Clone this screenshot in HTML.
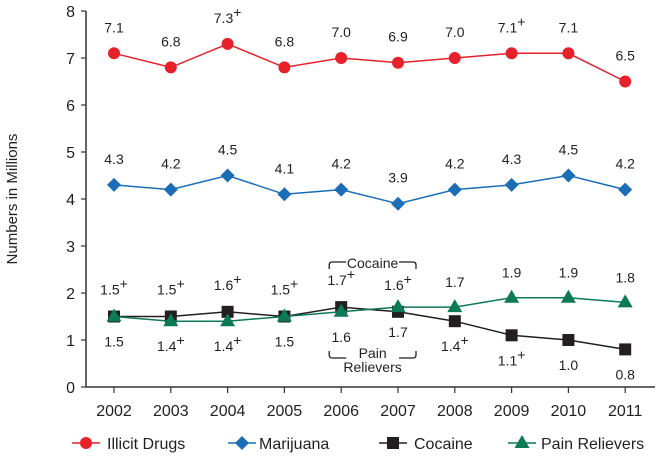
<!DOCTYPE html>
<html><head><meta charset="utf-8"><style>
body{margin:0;background:#fff;}
svg text{font-family:"Liberation Sans",Arial,sans-serif;fill:#231f20;}
</style></head><body>
<svg id="chart" width="656" height="461" xmlns="http://www.w3.org/2000/svg"></svg>
<script>
const years=["2002","2003","2004","2005","2006","2007","2008","2009","2010","2011"];
const illicit=[7.1,6.8,7.3,6.8,7.0,6.9,7.0,7.1,7.1,6.5];
const illicitLabels=["7.1","6.8","7.3+","6.8","7.0","6.9","7.0","7.1+","7.1","6.5"];
const marijuana=[4.3,4.2,4.5,4.1,4.2,3.9,4.2,4.3,4.5,4.2];
const marijuanaLabels=["4.3","4.2","4.5","4.1","4.2","3.9","4.2","4.3","4.5","4.2"];
const cocaine=[1.5,1.5,1.6,1.5,1.7,1.6,1.4,1.1,1.0,0.8];
const cocaineLabels=["1.5+","1.5+","1.6+","1.5+","1.7+","1.6+","1.4+","1.1+","1.0","0.8"];
const pain=[1.5,1.4,1.4,1.5,1.6,1.7,1.7,1.9,1.9,1.8];
const painLabels=["1.5","1.4+","1.4+","1.5","1.6","1.7","1.7","1.9","1.9","1.8"];
const yTicks=[0,1,2,3,4,5,6,7,8];

const NS="http://www.w3.org/2000/svg";
const svg=document.getElementById('chart');
const x0=86,y0=387,unit=47,x2002=114,step=56.8;
const X=i=>x2002+i*step;
const Y=v=>y0-v*unit;
function el(t,a,p){const e=document.createElementNS(NS,t);for(const k in a)e.setAttribute(k,a[k]);(p||svg).appendChild(e);return e;}
function label(txt,x,y,size){
  const t=el('text',{x:x,y:y,'text-anchor':'middle','font-size':size});
  const plus=txt.endsWith('+');
  t.textContent=plus?txt.slice(0,-1):txt;
  if(plus){const s=el('tspan',{dy:-6,'font-size':size},t);s.textContent='+';}
  return t;
}
let a=el('line',{x1:x0,y1:y0,x2:655,y2:y0,stroke:'#333','stroke-width':1.5});

a=el('line',{x1:x0,y1:Y(8),x2:x0,y2:y0,stroke:'#333','stroke-width':1.5});

yTicks.forEach(v=>{
  const l=el('line',{x1:x0-5,y1:Y(v),x2:x0,y2:Y(v),stroke:'#333','stroke-width':1.2});
  
  const t=el('text',{x:x0-11,y:Y(v)+6,'text-anchor':'end','font-size':16});t.textContent=v;
  
});
years.forEach((yr,i)=>{
  const l=el('line',{x1:X(i),y1:y0,x2:X(i),y2:y0+6,stroke:'#333','stroke-width':1.2});
  
  const t=el('text',{x:X(i),y:y0+29,'text-anchor':'middle','font-size':16});t.textContent=yr;
  
});
const yt=el('text',{x:0,y:0,'text-anchor':'middle','font-size':15,transform:'translate(17,'+Y(4)+') rotate(-90)'});
yt.textContent='Numbers in Millions';


function marker(shape,x,y,color,parent){
  if(shape==='circle')return el('circle',{cx:x,cy:y,r:6,fill:color},parent);
  if(shape==='diamond')return el('polygon',{points:`${x},${y-7} ${x+7},${y} ${x},${y+7} ${x-7},${y}`,fill:color},parent);
  if(shape==='square')return el('rect',{x:x-6,y:y-6,width:12,height:12,fill:color},parent);
  return el('polygon',{points:`${x},${y-8} ${x+7.5},${y+5} ${x-7.5},${y+5}`,fill:color},parent);
}
function series(vals,color,shape,name){
  const g=el('g',{});
  
  const p=el('polyline',{points:vals.map((v,i)=>X(i)+','+Y(v)).join(' '),fill:'none',stroke:color,'stroke-width':1.5},g);
  
  vals.forEach((v,i)=>{const m=marker(shape,X(i),Y(v),color,g);
    });
}
series(illicit,'#e8202a','circle','illicit-drugs');
series(marijuana,'#1b6db5','diamond','marijuana');
series(cocaine,'#231f20','square','cocaine');
series(pain,'#0b7a55','triangle','pain-relievers');

illicit.forEach((v,i)=>{const t=label(illicitLabels[i],X(i),Y(v)-21,14);
  });
marijuana.forEach((v,i)=>{const t=label(marijuanaLabels[i],X(i),Y(v)-21,14);
  });
cocaine.forEach((v,i)=>{const above=i<6;
  const t=label(cocaineLabels[i],X(i),above?Y(v)-22:Y(v)+30,14);
  });
pain.forEach((v,i)=>{const above=i>=6;
  const t=label(painLabels[i],X(i),above?Y(v)-20:Y(v)+30,14);
  });

const bx1=X(4)-12,bx2=X(5)+18;
let b=el('path',{d:`M${bx1},269 v-4 q0,-3 3,-3 h14 M${bx2},269 v-4 q0,-3 -3,-3 h-14`,fill:'none',stroke:'#231f20','stroke-width':1.3});

let t=el('text',{x:(bx1+bx2)/2,y:268,'text-anchor':'middle','font-size':14});t.textContent='Cocaine';

b=el('path',{d:`M${bx1},351 v4 q0,3 3,3 h14 M${bx2},351 v4 q0,3 -3,3 h-14`,fill:'none',stroke:'#231f20','stroke-width':1.3});

t=el('text',{x:(bx1+bx2)/2,y:358,'text-anchor':'middle','font-size':14});t.textContent='Pain';

t=el('text',{x:(bx1+bx2)/2,y:372,'text-anchor':'middle','font-size':14});t.textContent='Relievers';


const legend=[["Illicit Drugs",'#e8202a','circle',86,107],["Marijuana",'#1b6db5','diamond',242,259],["Cocaine",'#231f20','square',393,414],["Pain Relievers",'#0b7a55','triangle',522,541]];
legend.forEach(([name,c,s,mx,tx])=>{
  const g=el('g',{});
  
  el('line',{x1:mx-14,y1:443,x2:mx+14,y2:443,stroke:c,'stroke-width':1.5},g);
  marker(s,mx,443,c,g);
  const tt=el('text',{x:tx,y:449,'font-size':16},g);tt.textContent=name;
});
</script>
</body></html>
